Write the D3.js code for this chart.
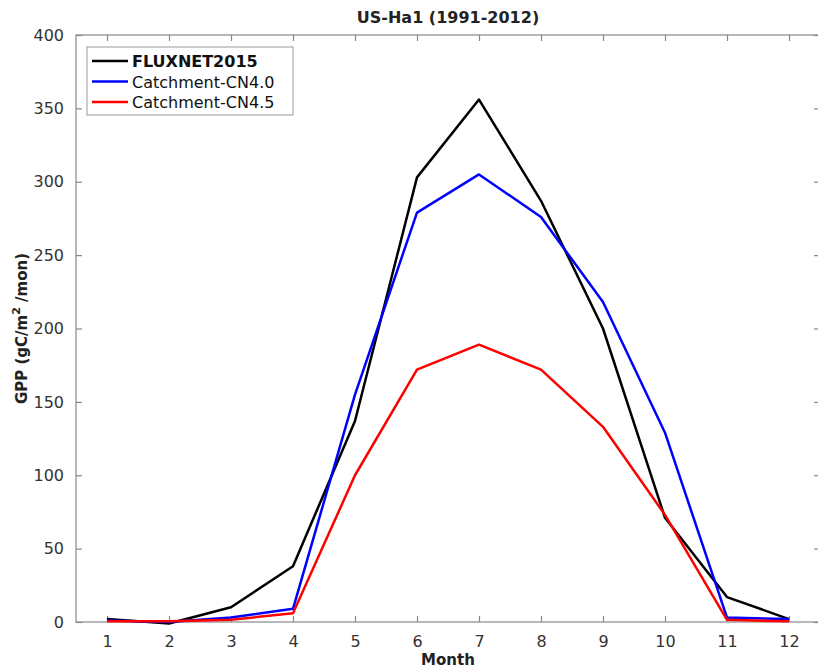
<!DOCTYPE html>
<html>
<head>
<meta charset="utf-8">
<script src="https://cdn.jsdelivr.net/npm/d3@7"></script>
<style>
  body { margin: 0; background: #fff; }
  text { font-family: "DejaVu Sans", sans-serif; }
</style>
</head>
<body>
<div id="chart"></div>
<script>
var months = [1, 2, 3, 4, 5, 6, 7, 8, 9, 10, 11, 12];
var fluxnet = [2, -1, 10, 38, 137, 303, 356, 287, 200, 71, 17, 2];
var cn40 = [1, 0, 3, 9, 155, 279, 305, 276, 218, 129, 3, 2];
var cn45 = [0.5, 0.5, 1.5, 6, 100, 172, 189, 172, 133, 73, 1.5, 0.5];
var yTicks = [0, 50, 100, 150, 200, 250, 300, 350, 400];

var series = [
  { name: "FLUXNET2015", values: fluxnet, color: "#000000" },
  { name: "Catchment-CN4.0", values: cn40, color: "#0000ff" },
  { name: "Catchment-CN4.5", values: cn45, color: "#ff0000" }
];

var width = 818;
var height = 669;
// plot box (note: "top" is reserved on window, so use plotTop etc.)
var plotLeft = 76, plotRight = 820, plotTop = 35, plotBottom = 622;

var svg = d3.select("#chart").append("svg")
  .attr("width", width)
  .attr("height", height);

var x = d3.scaleLinear().domain([0.5, 12.5]).range([plotLeft, plotRight]);
var y = d3.scaleLinear().domain([0, 400]).range([plotBottom, plotTop]);

var axisColor = "#888";

// frame
svg.append("rect")
  .attr("x", plotLeft).attr("y", plotTop)
  .attr("width", plotRight - plotLeft).attr("height", plotBottom - plotTop)
  .attr("fill", "none").attr("stroke", axisColor).attr("stroke-width", 1.2);

// bottom axis
svg.append("g")
  .attr("transform", "translate(0," + plotBottom + ")")
  .call(d3.axisBottom(x).tickValues(months).tickSizeInner(-6).tickSizeOuter(0).tickPadding(14));
// left axis
svg.append("g")
  .attr("transform", "translate(" + plotLeft + ",0)")
  .call(d3.axisLeft(y).tickValues(yTicks).tickSizeInner(-6).tickSizeOuter(0).tickPadding(12));
// top ticks
svg.append("g")
  .attr("transform", "translate(0," + plotTop + ")")
  .call(d3.axisTop(x).tickValues(months).tickSizeInner(-6).tickSizeOuter(0).tickFormat(""));
// right ticks
svg.append("g")
  .attr("transform", "translate(" + plotRight + ",0)")
  .call(d3.axisRight(y).tickValues(yTicks).tickSizeInner(-6).tickSizeOuter(0).tickFormat(""));

svg.selectAll(".domain").remove();
svg.selectAll(".tick line").attr("stroke", axisColor).attr("stroke-width", 1.2);
svg.selectAll(".tick text")
  .attr("fill", "#333")
  .style("font-size", "16px")
  .style("font-family", "DejaVu Sans, sans-serif");

// lines
var line = d3.line()
  .x(function (d, i) { return x(months[i]); })
  .y(function (d) { return y(d); });

series.forEach(function (s) {
  svg.append("path")
    .datum(s.values)
    .attr("d", line)
    .attr("fill", "none")
    .attr("stroke", s.color)
    .attr("stroke-width", 2.5)
    .attr("stroke-linejoin", "round");
});

// title
svg.append("text")
  .attr("x", 448).attr("y", 23)
  .attr("text-anchor", "middle")
  .style("font-size", "16px")
  .style("font-weight", "bold")
  .attr("fill", "#222")
  .text("US-Ha1 (1991-2012)");

// x label
svg.append("text")
  .attr("x", 448).attr("y", 665)
  .attr("text-anchor", "middle")
  .style("font-size", "15px")
  .style("font-weight", "bold")
  .attr("fill", "#222")
  .text("Month");

// y label
var yl = svg.append("text")
  .attr("transform", "translate(27," + ((plotTop + plotBottom) / 2) + ") rotate(-90)")
  .attr("text-anchor", "middle")
  .style("font-size", "15px")
  .style("font-weight", "bold")
  .attr("fill", "#222");
yl.append("tspan").text("GPP (gC/m");
yl.append("tspan").attr("dy", -7).style("font-size", "11px").text("2");
yl.append("tspan").attr("dy", 7).text(" /mon)");

// legend
var legend = svg.append("g");
legend.append("rect")
  .attr("x", 87).attr("y", 47)
  .attr("width", 206).attr("height", 68)
  .attr("fill", "#fff")
  .attr("stroke", "#999");

series.forEach(function (s, i) {
  var ly = 61 + i * 20.5;
  legend.append("line")
    .attr("x1", 92).attr("x2", 128)
    .attr("y1", ly).attr("y2", ly)
    .attr("stroke", s.color).attr("stroke-width", 2.5);
  legend.append("text")
    .attr("x", 132).attr("y", ly + 6)
    .style("font-size", "16px")
    .style("font-weight", i === 0 ? "bold" : "normal")
    .attr("fill", "#111")
    .text(s.name);
});
</script>
</body>
</html>
